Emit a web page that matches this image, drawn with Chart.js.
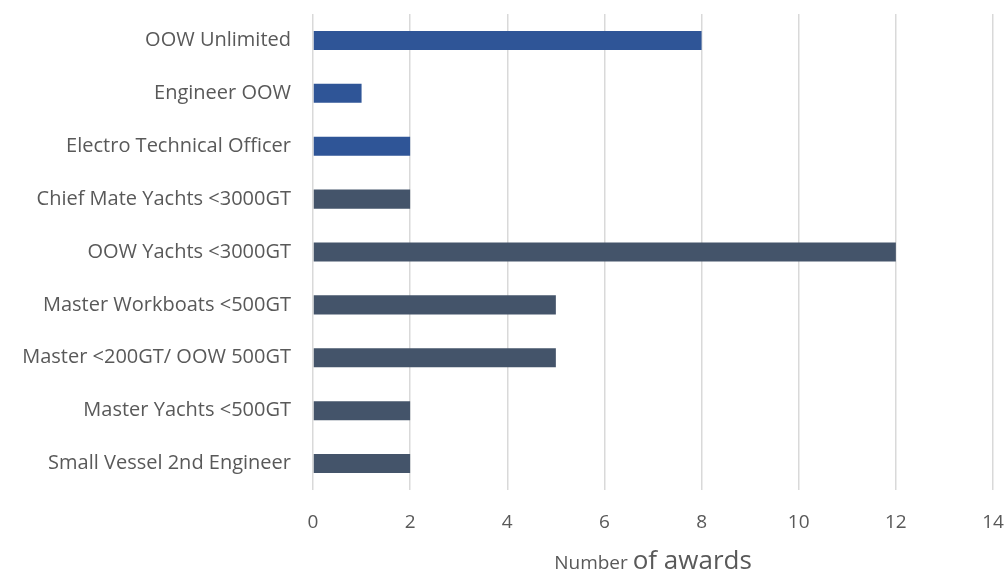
<!DOCTYPE html>
<html>
<head>
<meta charset="utf-8">
<script src="https://cdn.jsdelivr.net/npm/chart.js@4"></script>
<style>
  html, body { margin: 0; padding: 0; background: #fff; }
  #wrap { width: 1008px; height: 572px; }
</style>
</head>
<body>
<div id="wrap"><canvas id="awards-chart"></canvas></div>
<script>
const courses = [
  'OOW Unlimited',
  'Engineer OOW',
  'Electro Technical Officer',
  'Chief Mate Yachts <3000GT',
  'OOW Yachts <3000GT',
  'Master Workboats <500GT',
  'Master <200GT/ OOW 500GT',
  'Master Yachts <500GT',
  'Small Vessel 2nd Engineer'
];
const awards = [8, 1, 2, 2, 12, 5, 5, 2, 2];
const xTicks = [0, 2, 4, 6, 8, 10, 12, 14];

const blue = '#2F5597';
const slate = '#44546A';
// first three courses get the brighter blue
const barColors = courses.map((c, i) => i < 3 ? blue : slate);

const fontFamily = '"Open Sans", Lato, sans-serif';
const textColor = '#595959';

// x axis title: "Number" set smaller than "of awards"
const axisTitle = {
  id: 'axisTitle',
  afterDraw(chart) {
    const ctx = chart.ctx;
    const x = chart.scales.x;
    const mid = (x.left + x.right) / 2;
    const y = 569;
    ctx.save();
    ctx.fillStyle = textColor;
    ctx.textBaseline = 'alphabetic';
    ctx.textAlign = 'left';
    ctx.font = '19px ' + fontFamily;
    const a = 'Number ';
    const wa = ctx.measureText(a).width;
    ctx.font = '26px ' + fontFamily;
    const b = 'of awards';
    const wb = ctx.measureText(b).width;
    const start = mid - (wa + wb) / 2;
    ctx.font = '19px ' + fontFamily;
    ctx.fillText(a, start, y);
    ctx.font = '26px ' + fontFamily;
    ctx.fillText(b, start + wa, y);
    ctx.restore();
  }
};

new Chart(document.querySelector('#awards-chart'), {
  type: 'bar',
  data: {
    labels: courses,
    datasets: [{
      data: awards,
      backgroundColor: barColors,
      barPercentage: 0.36,
      categoryPercentage: 1
    }]
  },
  options: {
    indexAxis: 'y',
    responsive: true,
    maintainAspectRatio: false,
    animation: false,
    layout: {
      padding: { top: 0, right: 0, bottom: 37, left: 0 }
    },
    scales: {
      x: {
        min: 0,
        max: 14,
        afterBuildTicks: scale => {
          scale.ticks = xTicks.map(v => ({ value: v }));
        },
        afterFit: scale => {
          scale.height = 45;
          scale.paddingLeft = 0;
          scale.paddingRight = 15;
        },
        border: { display: false },
        grid: {
          color: '#D9D9D9',
          lineWidth: 1.5,
          drawTicks: false
        },
        ticks: {
          color: textColor,
          padding: 21,
          font: { family: fontFamily, size: 19 }
        }
      },
      y: {
        afterFit: scale => {
          scale.width = 313;
          scale.paddingTop = 14;
          scale.paddingBottom = 0;
        },
        border: { display: false },
        grid: { display: false },
        ticks: {
          color: textColor,
          padding: 14,
          font: { family: fontFamily, size: 20 }
        }
      }
    },
    plugins: {
      legend: { display: false },
      tooltip: { enabled: false }
    }
  },
  plugins: [axisTitle]
});
</script>
</body>
</html>
